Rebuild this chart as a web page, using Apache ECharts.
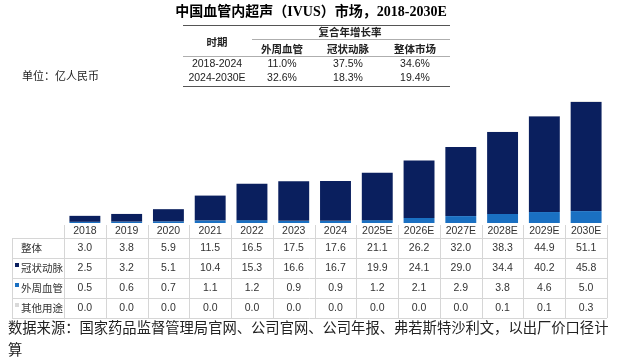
<!DOCTYPE html>
<html><head><meta charset="utf-8">
<script src="https://cdn.jsdelivr.net/npm/echarts@6/dist/echarts.min.js"></script>
<style>html,body{margin:0;padding:0;background:#fff}#c{width:621px;height:359px}</style>
</head><body><div id="c"></div>
<script>
const categories = ['2018','2019','2020','2021','2022','2023','2024','2025E','2026E','2027E','2028E','2029E','2030E'];
const total      = [3.0, 3.8, 5.9, 11.5, 16.5, 17.5, 17.6, 21.1, 26.2, 32.0, 38.3, 44.9, 51.1];
const coronary   = [2.5, 3.2, 5.1, 10.4, 15.3, 16.6, 16.7, 19.9, 24.1, 29.0, 34.4, 40.2, 45.8];
const peripheral = [0.5, 0.6, 0.7, 1.1, 1.2, 0.9, 0.9, 1.2, 2.1, 2.9, 3.8, 4.6, 5.0];
const other      = [0.0, 0.0, 0.0, 0.0, 0.0, 0.0, 0.0, 0.0, 0.0, 0.0, 0.1, 0.1, 0.3];
const rowLabels  = ['整体', '冠状动脉', '外周血管', '其他用途'];
const cagrTitle = '复合年增长率';
const cagrPeriodHeader = '时期';
const cagrHeaders = ['外周血管', '冠状动脉', '整体市场'];
const cagrPeriods = ['2018-2024', '2024-2030E'];
const cagrValues = [['11.0%', '37.5%', '34.6%'], ['32.6%', '18.3%', '19.4%']];
const titleText = '中国血管内超声（IVUS）市场，2018-2030E';
const unitText = '单位：亿人民币';
const sourceText = '数据来源：国家药品监督管理局官网、公司官网、公司年报、弗若斯特沙利文，以出厂价口径计\n算';

const C_NAVY = '#0A1F5E', C_BLUE = '#1A70C2', C_GRAY = '#D9D9D9';
const rowData = [total, coronary, peripheral, other];
const rowColors = [null, C_NAVY, C_BLUE, C_GRAY];

const GL = 64, GR = 14, GT = 80, GB = 136, W = 621, H = 359;
const gridBottomY = H - GB;
const cellEnd = W - GR;
const cellW = (cellEnd - GL) / categories.length;
const ROW_H = 20, HEAD_TOP = gridBottomY + 2, BODY_TOP = gridBottomY + 15;
const LINE = '#D6D6D6';
const numFont = "'Liberation Sans', Arial, sans-serif";
const cjkFont = "'Noto Sans CJK SC', sans-serif";

const chart = echarts.init(document.getElementById('c'), null, {renderer: 'canvas'});

const xAxes = [{
  type: 'category', data: categories, gridIndex: 0, position: 'bottom',
  axisLine: {show: false}, axisTick: {show: false},
  axisLabel: {interval: 0, margin: 8, verticalAlign: 'middle', fontSize: 10.5, color: '#333', fontFamily: numFont}
}];
rowData.forEach((arr, r) => {
  xAxes.push({
    type: 'category', data: categories, gridIndex: 0, position: 'bottom',
    offset: BODY_TOP - gridBottomY + r * ROW_H + ROW_H / 2 - 5,
    axisLine: {show: false}, axisTick: {show: false},
    axisLabel: {interval: 0, margin: 5, verticalAlign: 'middle', fontSize: 10.5, color: '#333', fontFamily: numFont,
      formatter: (v, i) => arr[i].toFixed(1)}
  });
});

const graphics = [];
for (let r = 0; r <= 4; r++) {
  const y = BODY_TOP + r * ROW_H + 0.5;
  graphics.push({type: 'line', shape: {x1: 12, y1: y, x2: cellEnd, y2: y}, style: {stroke: LINE, lineWidth: 1}, silent: true});
}
graphics.push({type: 'line', shape: {x1: 12.5, y1: BODY_TOP, x2: 12.5, y2: BODY_TOP + 4 * ROW_H}, style: {stroke: LINE, lineWidth: 1}});
for (let i = 0; i <= categories.length; i++) {
  const x = Math.round(GL + i * cellW) + 0.5;
  graphics.push({type: 'line', shape: {x1: x, y1: HEAD_TOP, x2: x, y2: BODY_TOP + 4 * ROW_H}, style: {stroke: LINE, lineWidth: 1}});
}
rowLabels.forEach((lab, r) => {
  const cy = BODY_TOP + r * ROW_H + ROW_H / 2;
  graphics.push({type: 'text', x: 21, y: cy, style: {text: lab, fontSize: 10.5, fill: '#333', fontFamily: cjkFont, verticalAlign: 'middle', align: 'left'}});
  if (rowColors[r]) graphics.push({type: 'rect', shape: {x: 15, y: cy - 5, width: 4, height: 4}, style: {fill: rowColors[r]}});
});
graphics.push({type: 'text', x: 22, y: 76, style: {text: unitText, fontSize: 11, fill: '#222', fontFamily: cjkFont, verticalAlign: 'middle'}});
graphics.push({type: 'text', x: 311, y: 12, style: {text: titleText, fontSize: 14, fontWeight: 'bold', fill: '#000', fontFamily: "'Liberation Serif', 'Noto Sans CJK SC', serif", align: 'center', verticalAlign: 'middle'}});
const TL = 183, TR = 450;
graphics.push({type: 'line', shape: {x1: TL, y1: 25.5, x2: TR, y2: 25.5}, style: {stroke: '#555', lineWidth: 1.2}});
graphics.push({type: 'line', shape: {x1: 252, y1: 39.5, x2: TR, y2: 39.5}, style: {stroke: '#999', lineWidth: 0.8}});
graphics.push({type: 'line', shape: {x1: TL, y1: 56.5, x2: TR, y2: 56.5}, style: {stroke: '#999', lineWidth: 0.8}});
graphics.push({type: 'line', shape: {x1: TL, y1: 86.5, x2: TR, y2: 86.5}, style: {stroke: '#555', lineWidth: 1.2}});
graphics.push({type: 'text', x: 217, y: 42, style: {text: cagrPeriodHeader, fontSize: 10.5, fontWeight: 'bold', fill: '#222', fontFamily: cjkFont, align: 'center', verticalAlign: 'middle'}});
graphics.push({type: 'text', x: 350, y: 32, style: {text: cagrTitle, fontSize: 10.5, fontWeight: 'bold', fill: '#222', fontFamily: cjkFont, align: 'center', verticalAlign: 'middle'}});
const colX = [282, 348, 415];
cagrHeaders.forEach((h, i) => {
  graphics.push({type: 'text', x: colX[i], y: 49, style: {text: h, fontSize: 10.5, fontWeight: 'bold', fill: '#222', fontFamily: cjkFont, align: 'center', verticalAlign: 'middle'}});
});
cagrPeriods.forEach((p, r) => {
  const y = 64 + r * 14.5;
  graphics.push({type: 'text', x: 217, y: y, style: {text: p, fontSize: 10.5, fill: '#222', fontFamily: numFont, align: 'center', verticalAlign: 'middle'}});
  cagrValues[r].forEach((v, i) => {
    graphics.push({type: 'text', x: colX[i], y: y, style: {text: v, fontSize: 10.5, fill: '#222', fontFamily: numFont, align: 'center', verticalAlign: 'middle'}});
  });
});
graphics.push({type: 'text', x: 8, y: 317, style: {text: sourceText, fontSize: 14.3, lineHeight: 22, fill: '#222', fontFamily: cjkFont, align: 'left', verticalAlign: 'top'}});

chart.setOption({
  animation: false,
  backgroundColor: '#fff',
  grid: {left: GL, right: GR, top: GT, bottom: GB, containLabel: false},
  xAxis: xAxes,
  yAxis: {type: 'value', min: 0, max: 60, show: false},
  series: [
    {name: '外周血管', type: 'bar', stack: 's', data: peripheral, barWidth: '74%', itemStyle: {color: C_BLUE}},
    {name: '冠状动脉', type: 'bar', stack: 's', data: coronary, barWidth: '74%', itemStyle: {color: C_NAVY}},
    {name: '其他用途', type: 'bar', stack: 's', data: other, barWidth: '74%', itemStyle: {color: C_GRAY}}
  ],
  graphic: graphics
});
</script></body></html>
